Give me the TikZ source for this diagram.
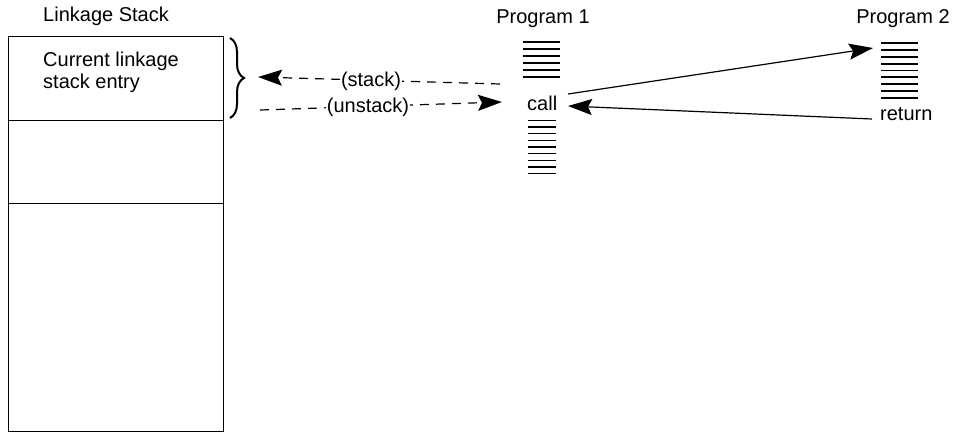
\documentclass[tikz,border=0pt]{standalone}
\usepackage{fontspec}
\setmainfont{Liberation Sans}
\usetikzlibrary{positioning,arrows.meta,decorations.pathreplacing}

\begin{document}
\begin{tikzpicture}[x=1pt, y=-1pt,
      every node/.style={font=\fontsize{20}{22}\selectfont, inner sep=0pt},
      slot/.style={draw, line width=1.1pt, minimum width=215pt, anchor=north west},
      lbl/.style={anchor=base},
      tag/.style={anchor=base, fill=white, inner xsep=1pt, inner ysep=2pt},
      bar/.style={line width=1.7pt},
      flow/.style={-{Stealth[length=24pt, width=16pt, inset=4pt]}, line width=1.2pt},
      dflow/.style={flow, dash pattern=on 9pt off 7pt},
      brace/.style={decorate, decoration={brace, amplitude=14pt}, line width=2pt},
  ]
    \useasboundingbox (0,0) rectangle (956,432);

    %% --- linkage stack, top to bottom ---
    \node[lbl, anchor=base west] (stacktitle) at (43,21) {Linkage Stack};
    \node[slot, minimum height=84pt]  (entry) at (8,36)  {};
    \node[slot, minimum height=83pt]  (mid)   at (8,120) {};
    \node[slot, minimum height=228pt] (rest)  at (8,203) {};
    \node[anchor=base west, align=left] (entrytext) at (43,88)
      {Current linkage\\stack entry};

    %% --- brace on the current entry ---
    \coordinate (bracetop) at (230,38);
    \coordinate (bracebot) at (230,118);
    \draw[brace] (bracetop) -- (bracebot);

    %% --- program 1 ---
    \node[lbl] (prog1) at (543,23) {Program 1};
    \node[lbl, anchor=base west] (call) at (527,110) {call};
    \foreach \i in {0,...,5}
      \draw[bar] (523,42.3+6.88*\i) -- (560,42.3+6.88*\i);
    \foreach \i in {0,...,8}
      \draw[bar, line width=1.4pt] (528,120.3+6.67*\i) -- (556,120.3+6.67*\i);

    %% --- program 2 ---
    \node[lbl] (prog2) at (903,23) {Program 2};
    \node[lbl, anchor=base west] (ret) at (880,120) {return};
    \foreach \i in {0,...,8}
      \draw[bar] (881,43.3+6.8*\i) -- (918,43.3+6.8*\i);

    %% --- stack / unstack ---
    \coordinate (stackfrom) at (500,84);
    \coordinate (stackto)   at (258,77);
    \coordinate (unstfrom)  at (260,110);
    \coordinate (unstto)    at (502,102);
    \draw[dflow] (stackfrom) -- (stackto);
    \draw[dflow] (unstfrom) -- (unstto);
    \node[tag] (stacklbl) at (371,86)  {(stack)};
    \node[tag] (unstlbl)  at (368,112) {(unstack)};

    %% --- call / return ---
    \coordinate (callout) at (568,94);
    \coordinate (p2in)    at (873,48);
    \coordinate (retout)  at (872,119);
    \coordinate (p1in)    at (568,106);
    \draw[flow] (callout) -- (p2in);
    \draw[flow] (retout) -- (p1in);
  \end{tikzpicture}
\end{document}
